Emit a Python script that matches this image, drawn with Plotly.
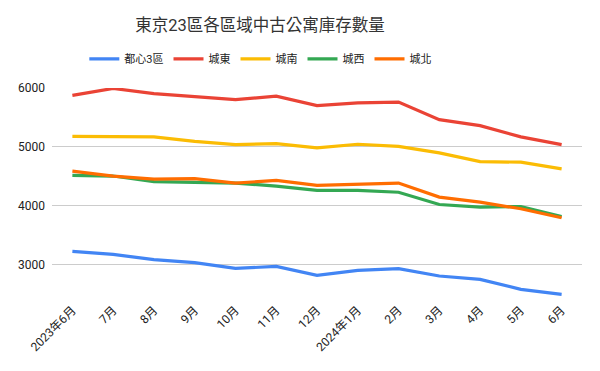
import plotly.graph_objects as go

months = ["2023年6月", "7月", "8月", "9月", "10月", "11月", "12月",
          "2024年1月", "2月", "3月", "4月", "5月", "6月"]

toshin3 = [3225, 3175, 3085, 3034, 2937, 2970, 2818, 2903, 2932, 2807, 2751, 2581, 2497]
joto    = [5875, 5993, 5903, 5853, 5802, 5862, 5700, 5746, 5760, 5463, 5361, 5170, 5039]
jonan   = [5180, 5176, 5170, 5095, 5039, 5056, 4983, 5045, 5010, 4898, 4751, 4740, 4627]
josai   = [4516, 4505, 4409, 4392, 4385, 4334, 4261, 4261, 4230, 4022, 3976, 3988, 3817]
johoku  = [4589, 4504, 4453, 4460, 4385, 4431, 4346, 4368, 4385, 4147, 4061, 3949, 3796]

series_names = ["都心3區", "城東", "城南", "城西", "城北"]
series_vals = [toshin3, joto, jonan, josai, johoku]
colors = ["#4285F4", "#EA4335", "#FBBC04", "#34A853", "#FF6D01"]

y_ticks = [3000, 4000, 5000, 6000]

FONT = "Roboto, 'Noto Sans CJK TC', 'Noto Sans CJK JP', sans-serif"

fig = go.Figure()
for name, vals, c in zip(series_names, series_vals, colors):
    fig.add_trace(go.Scatter(x=months, y=vals, name=name, mode="lines",
                             line=dict(color=c, width=3.2)))

# the page has an 8px body margin, so the figure is sized to fit the window
fig.update_layout(
    width=592, height=363,
    margin=dict(l=44, r=18, t=80, b=71, autoexpand=False),
    paper_bgcolor="white", plot_bgcolor="white",
    font=dict(family=FONT, size=12, color="#222222"),
    title=dict(text="東京23區各區域中古公寓庫存數量", x=0.4257, xanchor="center",
               y=0.953, yanchor="middle",
               font=dict(family=FONT, size=16.5, color="#333333")),
    legend=dict(orientation="h", x=0.394, xanchor="center", xref="paper",
                y=1.137, yanchor="middle", yref="paper",
                font=dict(size=11, color="#222222"),
                itemwidth=30),
    showlegend=True,
)
fig.update_xaxes(type="category", range=[-0.5, len(months) - 0.5], automargin=False,
                 showgrid=False, zeroline=False, showline=False,
                 tickangle=-45, tickfont=dict(size=12, color="#222222"), ticks="")
fig.update_yaxes(range=[2400, 6000], tickvals=y_ticks, automargin=False, showgrid=True,
                 gridcolor="#cccccc", gridwidth=1, zeroline=False, showline=False,
                 tickfont=dict(size=12, color="#222222"), ticks="", ticklabelstandoff=6)

fig.write_html("out.html")
